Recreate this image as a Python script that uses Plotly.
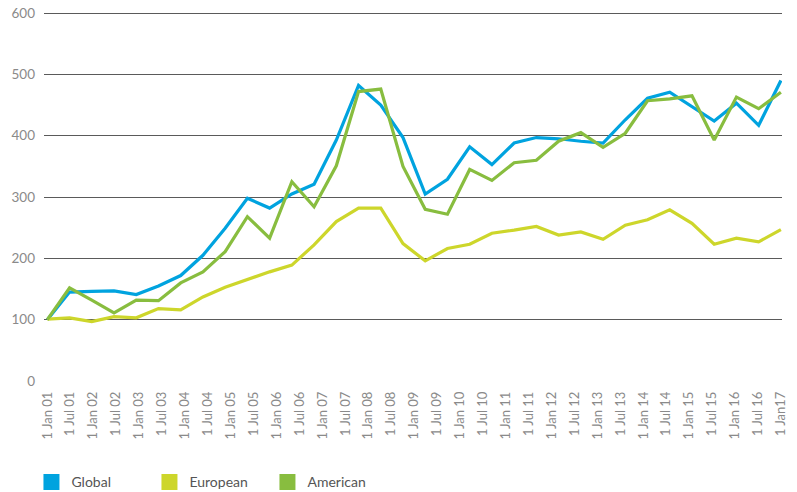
import plotly.graph_objects as go

# tick labels along the bottom (half-yearly)
tick_labels = [
    "1 Jan 01", "1 Jul 01", "1 Jan 02", "1 Jul 02", "1 Jan 03", "1 Jul 03",
    "1 Jan 04", "1 Jul 04", "1 Jan 05", "1 Jul 05", "1 Jan 06", "1 Jul 06",
    "1 Jan 07", "1 Jul 07", "1 Jan 08", "1 Jul 08", "1 Jan 09", "1 Jul 09",
    "1 Jan 10", "1 Jul 10", "1 Jan 11", "1 Jul 11", "1 Jan 12", "1 Jul 12",
    "1 Jan 13", "1 Jul 13", "1 Jan 14", "1 Jul 14", "1 Jan 15", "1 Jul 15",
    "1 Jan 16", "1 Jul 16", "1 Jan17",
]

global_idx = [100, 145, 146, 147, 141, 155, 172, 205, 249, 298, 282, 305, 321, 393,
              482, 450, 397, 305, 329, 382, 353, 388, 397, 395, 391, 388, 426, 461,
              471, 448, 424, 453, 417, 490]
european_idx = [101, 103, 97, 105, 103, 118, 116, 137, 153, 166, 178, 189, 222, 260,
                282, 282, 224, 196, 216, 223, 241, 246, 252, 238, 243, 231, 254, 263,
                279, 257, 223, 233, 227, 247]
american_idx = [100, 152, 132, 111, 132, 131, 160, 178, 211, 268, 233, 325, 284, 351,
                472, 476, 350, 280, 272, 345, 327, 356, 360, 391, 405, 381, 404, 457,
                460, 465, 393, 463, 444, 471]

series = [
    ("Global", global_idx, "#00A3DF"),
    ("European", european_idx, "#CDD62B"),
    ("American", american_idx, "#88BD3F"),
]

n = len(global_idx)
xs = list(range(n))
tickvals = [i * (n - 1) / (len(tick_labels) - 1) for i in range(len(tick_labels))]

fig = go.Figure()
for name, vals, col in series:
    fig.add_trace(go.Scatter(x=xs, y=vals, mode="lines", name=name, showlegend=False,
                             line=dict(color=col, width=3.2)))
# square swatches for the legend
for name, vals, col in series:
    fig.add_trace(go.Scatter(x=[None], y=[None], mode="markers", name=name,
                             marker=dict(symbol="square", size=16, color=col)))

font = "Lato, 'Open Sans', sans-serif"
fig.update_xaxes(range=[-0.15, 33.05], tickvals=tickvals, ticktext=tick_labels,
                 tickangle=-90, showgrid=False, zeroline=False, showline=False,
                 tickfont=dict(family=font, size=13, color="#8a8a8a"), ticklabelstandoff=7)
fig.update_yaxes(range=[0, 605], tickvals=[0, 100, 200, 300, 400, 500, 600],
                 showgrid=True, gridcolor="#5a5a5a", gridwidth=1,
                 zeroline=False, showline=False,
                 tickfont=dict(family=font, size=13.5, color="#8a8a8a"), ticklabelstandoff=8)

fig.update_layout(
    width=797, height=492,
    margin=dict(l=44, r=15, t=10, b=111, autoexpand=False),
    plot_bgcolor="white", paper_bgcolor="white",
    legend=dict(orientation="h", x=-0.017, xanchor="left", y=-0.23, yanchor="top",
                font=dict(family=font, size=14, color="#555555"),
                itemwidth=30, tracegroupgap=0, entrywidth=73, entrywidthmode="pixels"),
)

# drop the default page margin so the figure sits at the window's corner
fig.write_html("out.html", config={"displayModeBar": False},
               post_script="document.body.style.margin='0';")
